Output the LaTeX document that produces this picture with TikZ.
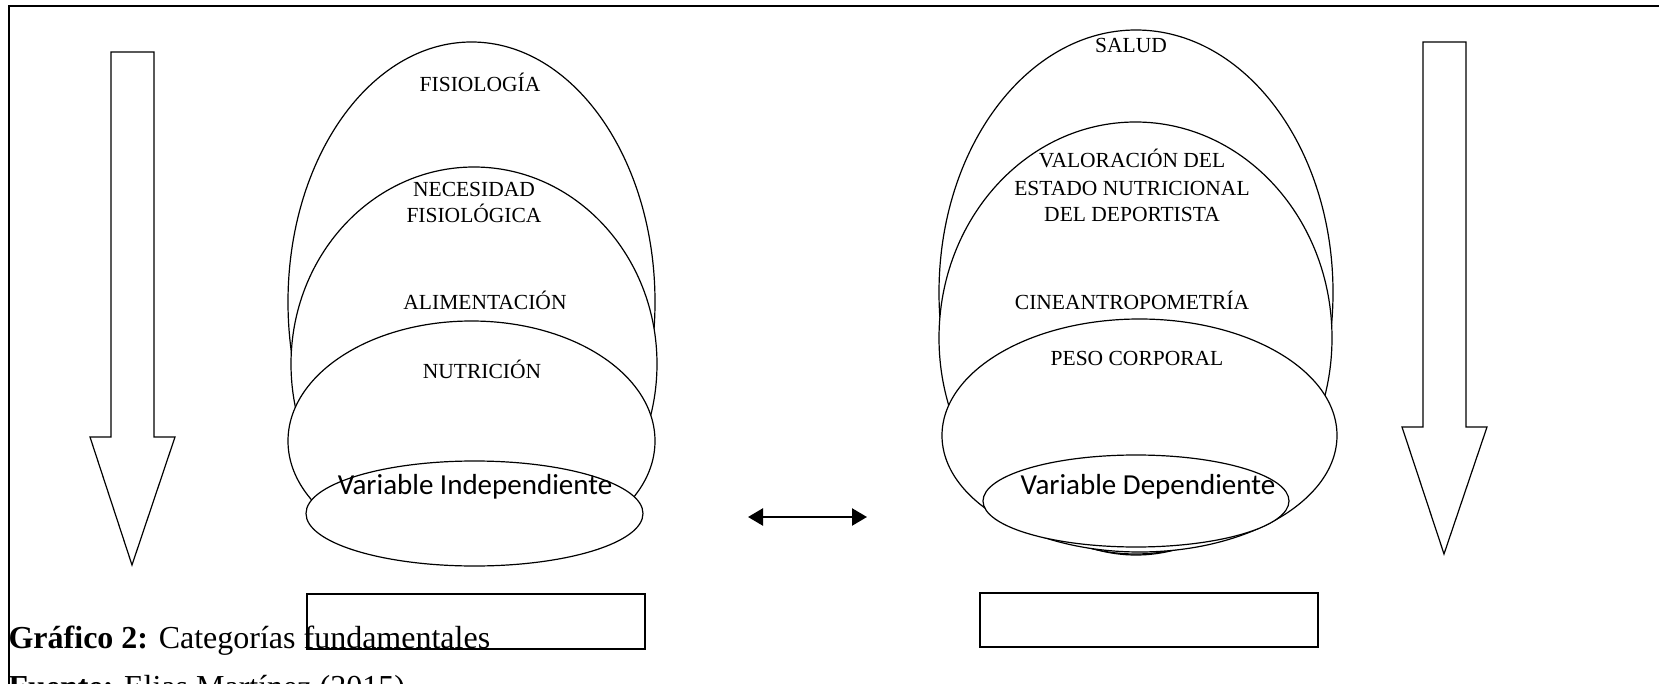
\documentclass[tikz,border=0pt]{standalone}
\usepackage{fontspec}
\setmainfont{Liberation Serif}
\newfontfamily\calfont{Carlito}
\usetikzlibrary{shapes.geometric,arrows.meta}
\begin{document}
\begin{tikzpicture}[x=1pt,y=-1pt,line width=1.2pt,
  oval/.style={ellipse, draw, fill=white, inner sep=0pt, line width=1.2pt},
  lbl/.style={font=\fontsize{21.5}{26}\selectfont, anchor=base, inner sep=0pt},
  vlbl/.style={font=\calfont\fontsize{29}{34}\selectfont, anchor=base, inner sep=0pt},
  blockarrow/.style={draw, fill=white, line width=1.2pt, line join=miter},
  emptybox/.style={draw, inner sep=0pt, line width=1.2pt},
  caption/.style={font=\fontsize{32}{38}\selectfont, anchor=base west, inner sep=0pt}
]
\useasboundingbox (0,0) rectangle (1659,684);
% frame
\draw (9,684) -- (9,6) -- (1659,6);
% block arrows
\draw[blockarrow] (111,52) -- (154,52) -- (154,437) -- (175,437) -- (132,565) -- (90,437) -- (111,437) -- cycle;
\draw[blockarrow] (1423,42) -- (1466,42) -- (1466,427) -- (1487,427) -- (1444,554) -- (1402,427) -- (1423,427) -- cycle;
% left ellipses
\node[oval, minimum width=367pt, minimum height=520pt] (fis) at (471.5,302) {};
\node[oval, minimum width=366pt, minimum height=394pt] (nec) at (474,364) {};
\node[oval, minimum width=367pt, minimum height=240pt] (nut) at (471.5,441) {};
\node[oval, minimum width=337pt, minimum height=105pt] (vi) at (474.5,513.5) {};
% right ellipses
\node[oval, minimum width=394pt, minimum height=525pt] (sal) at (1136,292.5) {};
\node[oval, minimum width=393pt, minimum height=432pt] (val) at (1135.5,338) {};
\node[oval, minimum width=395pt, minimum height=233pt] (peso) at (1139.5,435.5) {};
\node[oval, minimum width=306pt, minimum height=92pt] (vd) at (1136,501) {};
% labels left
\node[lbl] (t1) at (480,92) {FISIOLOGÍA};
\node[lbl] (t2) at (474,197) {NECESIDAD};
\node[lbl] (t3) at (474,223) {FISIOLÓGICA};
\node[lbl] (t4) at (485,310) {ALIMENTACIÓN};
\node[lbl] (t5) at (482,378) {NUTRICIÓN};
\node[vlbl] (t6) at (475,494) {Variable Independiente};
% labels right
\node[lbl] (s1) at (1131,53) {SALUD};
\node[lbl] (s2) at (1132,168) {VALORACIÓN DEL};
\node[lbl] (s3) at (1132,196) {ESTADO NUTRICIONAL};
\node[lbl] (s4) at (1132,222) {DEL DEPORTISTA};
\node[lbl] (s5) at (1132,310) {CINEANTROPOMETRÍA};
\node[lbl] (s6) at (1137,366) {PESO CORPORAL};
\node[vlbl] (s7) at (1148,494) {Variable Dependiente};
% empty boxes
\node[emptybox, minimum width=338pt, minimum height=55pt] (r1) at (476,621.5) {};
\node[emptybox, minimum width=338pt, minimum height=54pt] (r2) at (1149,620) {};
% double arrow
\coordinate (da) at (748,517);
\coordinate (db) at (867,517);
\draw[{Triangle[length=15pt,width=17pt]}-{Triangle[length=15pt,width=17pt]}, line width=2.4pt] (da) -- (db);
% caption
\node[caption] (cap) at (8,648) {\textbf{Gráfico 2:} Categorías fundamentales};
\node[caption] (src) at (8,697) {\textbf{Fuente:} Elias Martínez (2015)};
\end{tikzpicture}
\end{document}
